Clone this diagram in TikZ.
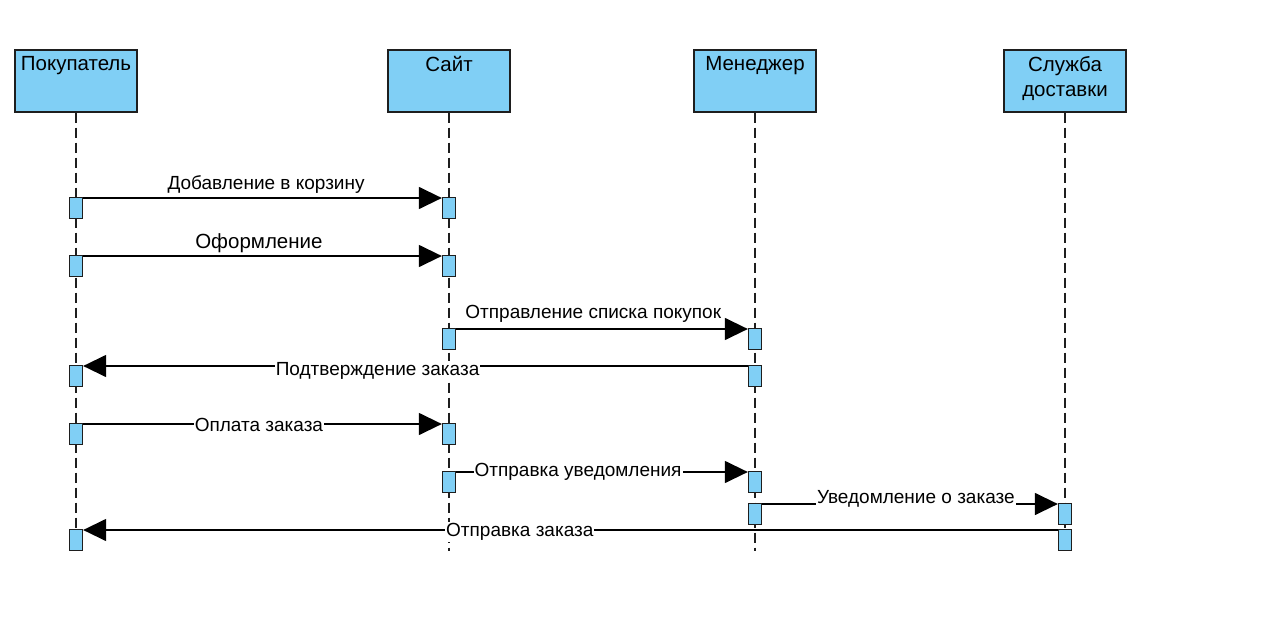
\documentclass[tikz,border=0pt]{standalone}
\usepackage{fontspec}
\setmainfont{Liberation Sans}
\usetikzlibrary{arrows.meta,positioning}
\definecolor{boxblue}{RGB}{128, 207, 245}
\definecolor{boxline}{RGB}{30, 30, 30}

\begin{document}
\begin{tikzpicture}[
    x=1pt, y=-1pt,
    every node/.style={align=center},
    actor/.style={rectangle, minimum width=122pt, minimum height=62pt, draw=boxline, fill=boxblue, line width=1.3pt, inner sep=0pt},
    actortext/.style={anchor=north, inner sep=2pt, yshift=-4.5pt, font=\fontsize{20.5}{25}\selectfont},
    act/.style={rectangle, minimum width=13pt, minimum height=21pt, draw=boxline, fill=boxblue, line width=1.3pt, inner sep=0pt, anchor=north},
    lifeline/.style={line width=1.3pt, boxline, dash pattern=on 10pt off 5pt},
    msg/.style={line width=1.4pt, black, -{Triangle[length=23pt, width=22pt]}},
    msgtext/.style={font=\fontsize{19}{22}\selectfont, inner sep=1pt},
    ontext/.style={msgtext, fill=white}
]
\useasboundingbox (0,0) rectangle (1261,623);

% Participants
\node[actor, label={[actortext]north:Покупатель}] (buyer) at (76,81) {};
\node[actor, label={[actortext]north:Сайт}] (site) at (449,81) {};
\node[actor, label={[actortext]north:Менеджер}] (manager) at (755,81) {};
\node[actor, label={[actortext]north:Служба\\доставки}] (delivery) at (1065,81) {};

% Lifelines
\coordinate (buyer end) at (76,551);
\coordinate (site end) at (449,551);
\coordinate (manager end) at (755,551);
\coordinate (delivery end) at (1065,551);
\draw[lifeline] (buyer.south) -- (buyer end);
\draw[lifeline] (site.south) -- (site end);
\draw[lifeline] (manager.south) -- (manager end);
\draw[lifeline] (delivery.south) -- (delivery end);

% Activations
\node[act] (b1) at (76,197) {};
\node[act] (b2) at (76,255) {};
\node[act] (b3) at (76,365) {};
\node[act] (b4) at (76,423) {};
\node[act] (b5) at (76,529) {};
\node[act] (s1) at (449,197) {};
\node[act] (s2) at (449,255) {};
\node[act] (s3) at (449,328) {};
\node[act] (s4) at (449,423) {};
\node[act] (s5) at (449,471) {};
\node[act] (m1) at (755,328) {};
\node[act] (m2) at (755,365) {};
\node[act] (m3) at (755,471) {};
\node[act] (m4) at (755,503) {};
\node[act] (d1) at (1065,503) {};
\node[act] (d2) at (1065,529) {};

% Messages
\draw[msg] ([yshift=-1pt]b1.north east) -- ([yshift=-1pt]s1.north west)
    node[msgtext, pos=0.51, above=3pt] {Добавление в корзину};
\draw[msg] ([yshift=-1pt]b2.north east) -- ([yshift=-1pt]s2.north west)
    node[msgtext, pos=0.49, above=2pt, font=\fontsize{20.5}{24}\selectfont] {Оформление};
\draw[msg] ([yshift=-1pt]s3.north east) -- ([yshift=-1pt]m1.north west)
    node[msgtext, pos=0.47, above=5pt] {Отправление списка покупок};
\draw[msg] ([yshift=-1pt]m2.north west) -- ([yshift=-1pt]b3.north east)
    node[ontext, pos=0.557, yshift=-5pt] {Подтверждение заказа};
\draw[msg] ([yshift=-1pt]b4.north east) -- ([yshift=-1pt]s4.north west)
    node[ontext, pos=0.49, yshift=-1pt] {Оплата заказа};
\draw[msg] ([yshift=-1pt]s5.north east) -- ([yshift=-1pt]m3.north west)
    node[ontext, pos=0.418] {Отправка уведомления};
\draw[msg] ([yshift=-1pt]m4.north east) -- ([yshift=-1pt]d1.north west)
    node[ontext, pos=0.52, yshift=5pt] {Уведомление о заказе};
\draw[msg] ([yshift=-1pt]d2.north west) -- ([yshift=-1pt]b5.north east)
    node[ontext, pos=0.552, yshift=-2pt] {Отправка заказа};

\end{tikzpicture}
\end{document}
